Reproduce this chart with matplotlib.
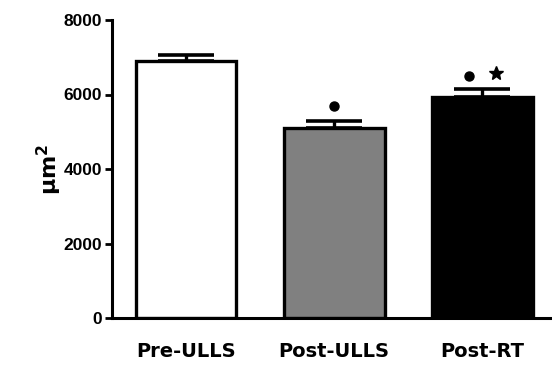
import matplotlib
matplotlib.use("Agg")
import matplotlib.pyplot as plt
import numpy as np

categories = ["Pre-ULLS", "Post-ULLS", "Post-RT"]
means = [6900, 5100, 5920]
sems = [170, 180, 220]
colors = ["white", "#808080", "black"]
yticks = [0, 2000, 4000, 6000, 8000]

fig = plt.figure(figsize=(5.52, 3.65), dpi=100)
ax = fig.add_axes([112/552, 1-318/365, 1-112/552, (318-20)/365])

x = np.arange(len(categories))
ax.bar(x, means, width=0.68, color=colors, edgecolor="black", linewidth=2.4, zorder=2)
ax.errorbar(x, means, yerr=[np.zeros(3), sems], fmt="none", ecolor="black",
            elinewidth=2.4, capsize=20, capthick=2.6, zorder=1)

# significance markers
ax.plot(x[1], 5690, "o", color="black", markersize=6.5)
ax.plot(x[2] - 0.09, 6500, "o", color="black", markersize=6.5)
ax.plot(x[2] + 0.09, 6570, "*", color="black", markersize=10)

ax.set_xlim(-0.5, 2.47)
ax.set_ylim(0, 8000)
ax.set_yticks(yticks)
ax.set_yticklabels([str(v) for v in yticks], fontsize=12.5, fontweight="bold",
                   family="Liberation Sans")
ax.set_xticks(x)
ax.set_xticklabels(categories, fontsize=14, fontweight="bold", family="DejaVu Sans")
ax.tick_params(axis="x", length=0, pad=17)
ax.tick_params(axis="y", length=5, width=2.0, direction="out", pad=2)
ax.set_ylabel("μm$^\\mathbf{2}$", fontsize=16, fontweight="bold", labelpad=0)

for s in ["top", "right"]:
    ax.spines[s].set_visible(False)
for s in ["left", "bottom"]:
    ax.spines[s].set_linewidth(2.2)

fig.savefig("out.png", dpi=100)
